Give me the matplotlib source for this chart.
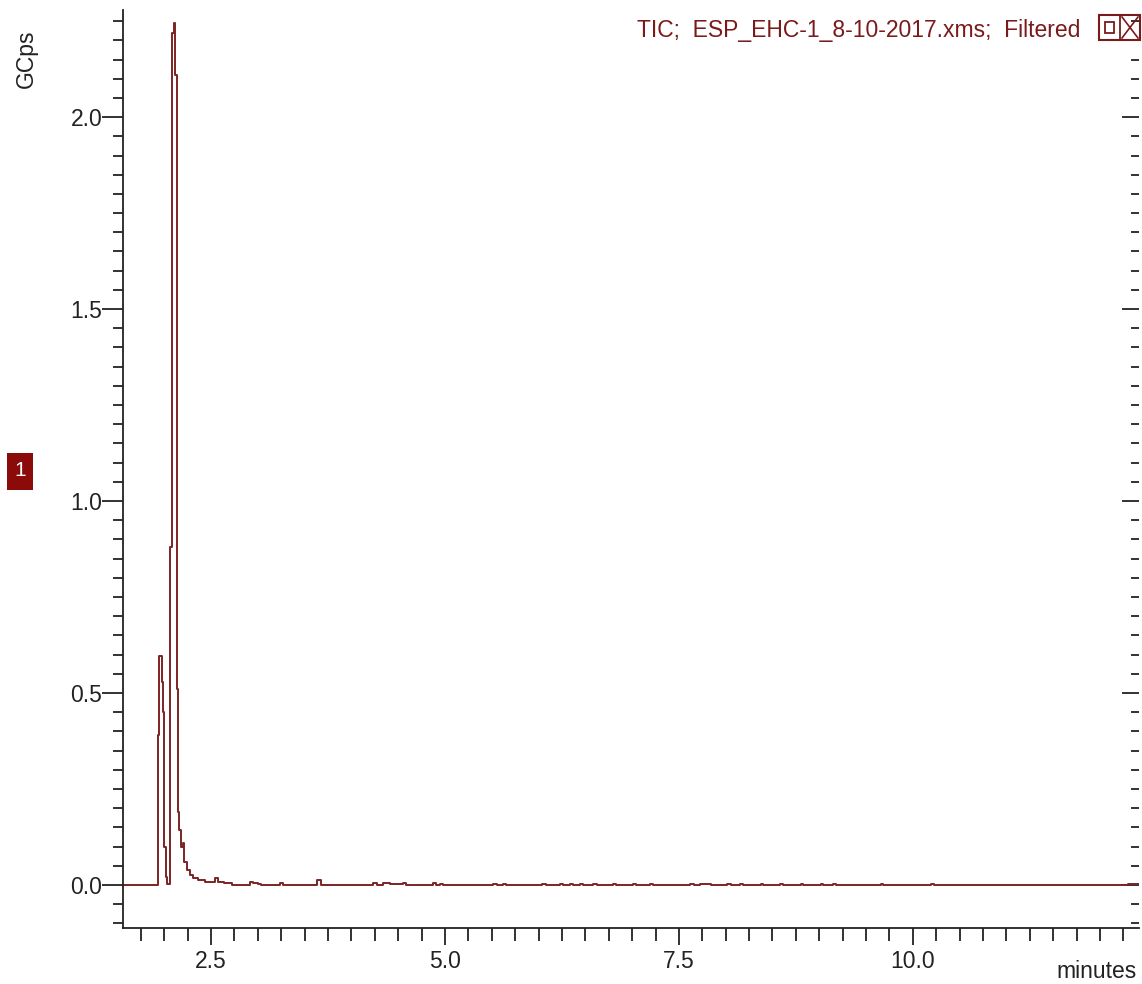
import numpy as np
import matplotlib.pyplot as plt
from matplotlib.ticker import MultipleLocator
from matplotlib.patches import Rectangle
from matplotlib.lines import Line2D

plt.rcParams['font.family'] = ['Liberation Sans', 'DejaVu Sans']

# retention time (minutes) and TIC intensity (GCps)
t_min = [1.56, 1.930, 1.937, 1.947, 1.973, 1.990, 1.997, 2.016, 2.033, 2.062,
         2.083, 2.104, 2.120, 2.133, 2.144, 2.161, 2.179, 2.195, 2.208, 2.240,
         2.276, 2.308, 2.361, 2.436, 2.543, 2.575, 2.639, 2.660, 2.725, 2.917,
         2.949, 3.003, 3.030, 3.238, 3.270, 3.634, 3.677, 4.233, 4.276, 4.340,
         4.415, 4.554, 4.586, 4.875, 4.907, 4.949, 4.980, 5.516, 5.559, 5.623,
         5.650, 6.040, 6.083, 6.233, 6.260, 6.340, 6.370, 6.447, 6.480, 6.586,
         6.620, 6.800, 6.830, 7.013, 7.045, 7.195, 7.225, 7.623, 7.660, 7.730,
         7.805, 7.840, 8.019, 8.060, 8.158, 8.190, 8.372, 8.400, 8.585, 8.615,
         8.800, 8.830, 9.014, 9.045, 9.152, 9.180, 9.655, 9.680, 10.190, 10.222,
         10.250, 12.300, 12.42]
gcps = [0.001, 0.013, 0.39, 0.596, 0.53, 0.45, 0.10, 0.02, 0.003, 0.88,
        2.22, 2.245, 2.11, 0.51, 0.19, 0.143, 0.10, 0.11, 0.06, 0.04,
        0.026, 0.018, 0.013, 0.007, 0.017, 0.009, 0.005, 0.004, 0.001, 0.009,
        0.004, 0.002, 0.001, 0.005, 0.001, 0.012, 0.001, 0.005, 0.001, 0.005,
        0.002, 0.004, 0.001, 0.004, 0.001, 0.003, 0.001, 0.003, 0.001, 0.003,
        0.001, 0.003, 0.001, 0.003, 0.001, 0.003, 0.001, 0.003, 0.001, 0.003,
        0.001, 0.003, 0.001, 0.003, 0.001, 0.003, 0.001, 0.003, 0.001, 0.003,
        0.003, 0.001, 0.003, 0.001, 0.003, 0.001, 0.003, 0.001, 0.003, 0.001,
        0.003, 0.001, 0.003, 0.001, 0.002, 0.001, 0.002, 0.001, 0.003, 0.001,
        0.001, 0.002, 0.002]

trace_c = '#7d2424'
fs = 16.5

fig = plt.figure(figsize=(11.42, 9.84), dpi=100)
ax = fig.add_axes([123/1142, 1-928/984, (1139-123)/1142, (928-10)/984])
ax.plot(t_min, gcps, drawstyle='steps-post', color=trace_c, lw=1.4)

ax.set_xlim(1.559, 12.417)
ax.set_ylim(-0.112, 2.279)

ax.xaxis.set_major_locator(MultipleLocator(2.5))
ax.xaxis.set_minor_locator(MultipleLocator(0.25))
ax.yaxis.set_major_locator(MultipleLocator(0.5))
ax.yaxis.set_minor_locator(MultipleLocator(0.05))
ax.xaxis.set_major_formatter(plt.FuncFormatter(lambda v, p: f'{v:.1f}'))
ax.yaxis.set_major_formatter(plt.FuncFormatter(lambda v, p: f'{v:.1f}'))

for s in ['top', 'right']:
    ax.spines[s].set_visible(False)
for s in ['left', 'bottom']:
    ax.spines[s].set_linewidth(1.3)
    ax.spines[s].set_color('#222222')

ax.tick_params(axis='x', which='major', direction='out', length=12, width=1.3,
               labelsize=fs, pad=4, color='#222222', labelcolor='#222222')
ax.tick_params(axis='x', which='minor', direction='out', length=9, width=1.3,
               color='#222222')
ax.tick_params(axis='y', which='major', direction='out', length=15, width=1.3,
               labelsize=fs, pad=0, color='#222222', labelcolor='#222222', right=True)
ax.tick_params(axis='y', which='minor', direction='out', length=7, width=1.3,
               color='#222222', right=True)
# right side ticks point inward
for t in ax.yaxis.get_major_ticks():
    t.tick2line.set_markersize(12)
    t.tick2line.set_marker(0)
for t in ax.yaxis.get_minor_ticks():
    t.tick2line.set_markersize(6)
    t.tick2line.set_marker(0)

fig.text(26/1142, 1-59/984, 'GCps', rotation=90, ha='center', va='center',
         fontsize=fs, color='#222222')
fig.text(1137/1142, 1-971/984, 'minutes', ha='right', va='center',
         fontsize=fs, color='#222222')
fig.text(1080/1142, 1-30/984, 'TIC;  ESP_EHC-1_8-10-2017.xms;  Filtered',
         ha='right', va='center', fontsize=fs, color='#7a1a1a')

# red trace marker "1"
fig.patches.append(Rectangle((7/1142, 1-490/984), 26/1142, 37/984,
                             transform=fig.transFigure, fc='#8b0a0a', ec='none'))
fig.text(20/1142, 1-471/984, '1', ha='center', va='center', fontsize=15,
         color='white')

# window buttons at top right
bx0, by0, bw, bh = 1099, 15, 41, 25
fig.patches.append(Rectangle((bx0/1142, 1-(by0+bh)/984), bw/1142, bh/984,
                             transform=fig.transFigure, fc='none', ec='#7a1a1a', lw=1.5))
fig.lines.append(Line2D([(bx0+bw/2)/1142]*2, [1-(by0+bh)/984, 1-by0/984],
                        transform=fig.transFigure, color='#7a1a1a', lw=1.3))
fig.patches.append(Rectangle((1105/1142, 1-33/984), 9/1142, 11/984,
                             transform=fig.transFigure, fc='none', ec='#7a1a1a', lw=1.3))
fig.lines.append(Line2D([1122/1142, 1138/1142], [1-17/984, 1-38/984],
                        transform=fig.transFigure, color='#7a1a1a', lw=1.2))
fig.lines.append(Line2D([1122/1142, 1138/1142], [1-38/984, 1-17/984],
                        transform=fig.transFigure, color='#7a1a1a', lw=1.2))

fig.savefig('out.png', dpi=100)
